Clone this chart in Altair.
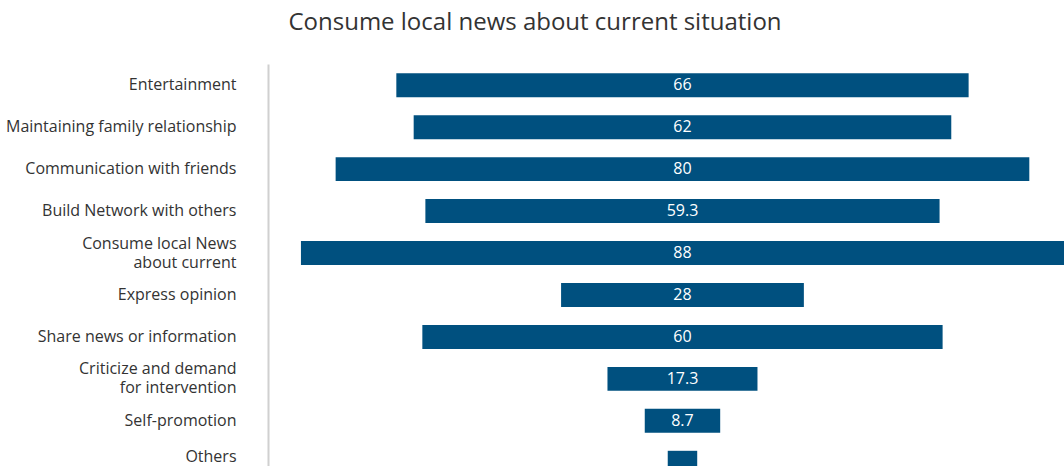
import altair as alt
import pandas as pd

categories = [
    "Entertainment",
    "Maintaining family relationship",
    "Communication with friends",
    "Build Network with others",
    "Consume local News|about current",
    "Express opinion",
    "Share news or information",
    "Criticize and demand|for intervention",
    "Self-promotion",
    "Others",
]
values = [66, 62, 80, 59.3, 88, 28, 60, 17.3, 8.7, 3.4]
value_labels = ["66", "62", "80", "59.3", "88", "28", "60", "17.3", "8.7", ""]

df = pd.DataFrame({"category": categories, "value": values, "label": value_labels})

base = alt.Chart(df).transform_calculate(
    lo="-datum.value/2", hi="datum.value/2", mid="0"
)

y_enc = alt.Y(
    "category:N",
    sort=categories,
    scale=alt.Scale(range=[0, 420], paddingInner=0.4286, paddingOuter=0.22),
    axis=alt.Axis(
        title=None,
        ticks=False,
        grid=False,
        domain=True,
        domainColor="#d0d0d0",
        domainWidth=2,
        labelPadding=32,
        labelFont="Open Sans",
        labelFontSize=16,
        labelColor="#333333",
        labelExpr="split(datum.label, '|')",
        labelLineHeight=19,
        labelLimit=400,
        labelOffset={
            "condition": [
                {"test": "indexof(datum.value, '|') >= 0", "value": -9.5},
                {"test": "datum.value == 'Others'", "value": -6},
            ],
            "value": 0,
        },
    ),
)

xscale = alt.Scale(domain=[-47.8, 44], nice=False, zero=False)

bars = base.mark_bar(color="#00507f", clip=True).encode(
    x=alt.X("lo:Q", scale=xscale, axis=None),
    x2="hi:Q",
    y=y_enc,
)

texts = base.mark_text(color="white", font="Open Sans", fontSize=16, clip=True).encode(
    x=alt.X("mid:Q", scale=xscale, axis=None),
    y=y_enc,
    text="label:N",
)

chart = (
    alt.layer(bars, texts)
    .properties(
        width=796,
        height=402,
        title=alt.TitleParams(
            "Consume local news about current situation",
            font="Open Sans",
            fontSize=24,
            fontWeight="normal",
            color="#333333",
            anchor="middle",
            offset=29,
            dx=-131,
        ),
        autosize=alt.AutoSizeParams(type="none"),
        padding={"left": 268, "top": 64, "right": 0, "bottom": 0},
    )
    .configure_view(stroke=None)
)

chart.save("out.html", embed_options={"renderer": "svg", "actions": False})
